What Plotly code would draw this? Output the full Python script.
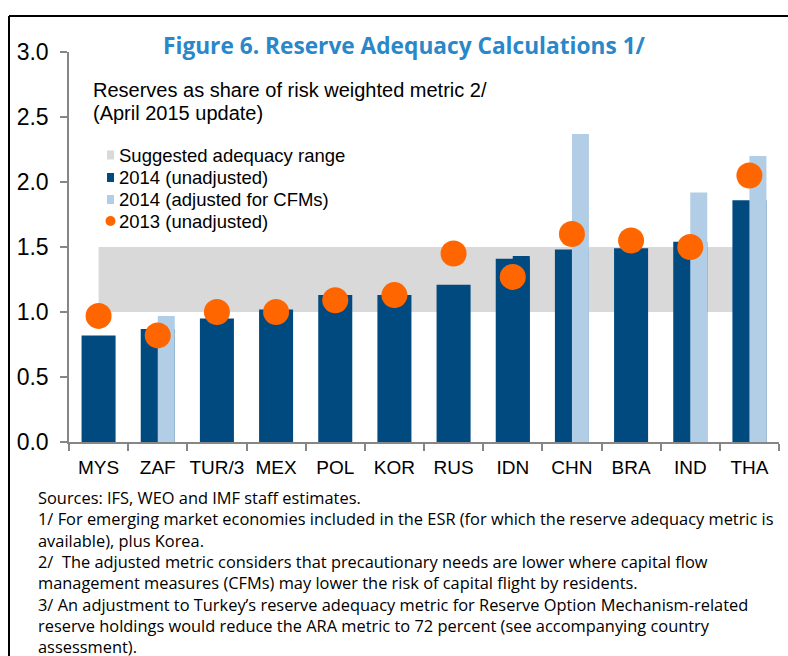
import plotly.graph_objects as go

# ---------------- data ----------------
countries = ["MYS", "ZAF", "TUR/3", "MEX", "POL", "KOR", "RUS", "IDN", "CHN", "BRA", "IND", "THA"]
unadj_2014 = [0.82, 0.87, 0.95, 1.02, 1.13, 1.13, 1.21, 1.41, 1.48, 1.49, 1.54, 1.86]
# right half of each bar: CFM-adjusted value where one exists
adj_2014 = [None, 0.97, None, None, None, None, None, 1.43, 2.37, None, 1.92, 2.20]
cfm_flag = [0, 1, 0, 0, 0, 0, 0, 0, 1, 0, 1, 1]
unadj_2013 = [0.97, 0.82, 1.00, 1.00, 1.09, 1.13, 1.45, 1.27, 1.60, 1.55, 1.50, 2.05]
band_low, band_high = 1.0, 1.5
y_ticks = [0.0, 0.5, 1.0, 1.5, 2.0, 2.5, 3.0]

title = "Figure 6. Reserve Adequacy Calculations 1/"
subtitle = ["Reserves as share of risk weighted metric 2/", "(April 2015 update)"]
legend_labels = ["Suggested adequacy range", "2014 (unadjusted)",
                 "2014 (adjusted for CFMs)", "2013 (unadjusted)"]
footnotes = [
    "Sources: IFS, WEO and IMF staff estimates.",
    "1/ For emerging market economies included in the ESR (for which the reserve adequacy metric is",
    "available), plus Korea.",
    "2/  The adjusted metric considers that precautionary needs are lower where capital flow",
    "management measures (CFMs) may lower the risk of capital flight by residents.",
    "3/ An adjustment to Turkey\u2019s reserve adequacy metric for Reserve Option Mechanism-related",
    "reserve holdings would reduce the ARA metric to 72 percent (see accompanying country",
    "assessment).",
]

DARK = "#004A80"
LIGHT = "#B2CDE6"
ORANGE = "#FF6600"
GREY = "#D9D9D9"
AXIS = "#868686"
TITLE_BLUE = "#2A87C8"

W, H = 788, 656
L, R, T, B = 69, 9, 52, 214
PW, PH = W - L - R, H - T - B
BAR_W = 0.575


def px(x):
    """screen pixel x -> paper x"""
    return (x - L) / PW


def py(y):
    """screen pixel y -> paper y"""
    return (H - B - y) / PH


adj_x = [c for c, a in zip(countries, adj_2014) if a is not None]
adj_y = [a for a in adj_2014 if a is not None]
adj_c = [LIGHT if f else DARK for f, a in zip(cfm_flag, adj_2014) if a is not None]

fig = go.Figure()
fig.add_trace(go.Bar(x=countries, y=unadj_2014, name=legend_labels[1], width=BAR_W,
                     marker=dict(color=DARK, line=dict(width=0)), showlegend=False))
fig.add_trace(go.Bar(x=adj_x, y=adj_y, name=legend_labels[2], width=BAR_W / 2, offset=0,
                     marker=dict(color=adj_c, line=dict(width=0)), showlegend=False))
fig.add_trace(go.Scatter(x=countries, y=unadj_2013, mode="markers", name=legend_labels[3],
                         marker=dict(color=ORANGE, size=26, line=dict(width=0)),
                         showlegend=False))

shapes = [
    dict(type="rect", xref="x", yref="y", x0=countries[0], x1=countries[-1],
         y0=band_low, y1=band_high, fillcolor=GREY, line=dict(width=0), layer="below"),
    # frame
    dict(type="line", xref="paper", yref="paper", x0=px(9), x1=px(W + 20), y0=py(16), y1=py(16),
         line=dict(color="black", width=2)),
    dict(type="line", xref="paper", yref="paper", x0=px(9), x1=px(9), y0=py(16), y1=py(H + 20),
         line=dict(color="black", width=2)),
]

# manual legend
leg_y = [155, 177.5, 199.5, 221.5]
leg_cols = [GREY, DARK, LIGHT]
for i, c in enumerate(leg_cols):
    shapes.append(dict(type="rect", xref="paper", yref="paper",
                       x0=px(107), x1=px(114), y0=py(leg_y[i] - 4.5), y1=py(leg_y[i] + 4.5),
                       fillcolor=c, line=dict(width=0)))
shapes.append(dict(type="circle", xref="paper", yref="paper",
                   x0=px(105.5), x1=px(115.5), y0=py(leg_y[3] - 5.5), y1=py(leg_y[3] + 4.5),
                   fillcolor=ORANGE, line=dict(width=0)))

annotations = [
    dict(text="<b>" + title + "</b>", xref="paper", yref="paper", x=px(404), y=py(45),
         xanchor="center", yanchor="middle", showarrow=False,
         font=dict(family="Open Sans", size=22.7, color=TITLE_BLUE)),
]
for i, s in enumerate(subtitle):
    annotations.append(dict(text=s, xref="paper", yref="paper", x=px(91), y=py([90, 113][i]),
                            xanchor="left", yanchor="middle", showarrow=False,
                            font=dict(family="Arial", size=20, color="black")))
for i, s in enumerate(legend_labels):
    annotations.append(dict(text=s, xref="paper", yref="paper", x=px(117), y=py(leg_y[i]),
                            xanchor="left", yanchor="middle", showarrow=False,
                            font=dict(family="Arial", size=18.5, color="black")))
annotations.append(dict(text="<br>".join(footnotes), xref="paper", yref="paper",
                        x=px(36), y=py(484), xanchor="left", yanchor="top", align="left",
                        showarrow=False,
                        font=dict(family="Open Sans", size=16.4, color="black")))

fig.update_layout(
    width=W, height=H,
    margin=dict(l=L, r=R, t=T, b=B, autoexpand=False),
    paper_bgcolor="white", plot_bgcolor="white",
    barmode="overlay",
    showlegend=False,
    shapes=shapes, annotations=annotations,
    font=dict(family="Arial", color="black"),
)
fig.update_xaxes(type="category", range=[-0.5, 11.5], tickson="boundaries",
                 ticks="outside", ticklen=7, tickcolor=AXIS, tickwidth=1.5, tickangle=0,
                 showline=True, linecolor=AXIS, linewidth=1.5, showgrid=False, automargin=False,
                 ticklabelstandoff=7,
                 tickfont=dict(family="Arial", size=19, color="black"))
fig.update_yaxes(range=[0, 3], tickvals=y_ticks, tickformat=".1f",
                 ticks="outside", ticklen=7, tickcolor=AXIS, tickwidth=1.5,
                 showline=True, linecolor=AXIS, linewidth=1.5, showgrid=False, zeroline=False,
                 ticklabelstandoff=7, automargin=False,
                 tickfont=dict(family="Arial", size=23, color="black"))

fig.write_html("out.html",
               config={"displayModeBar": False},
               post_script="document.documentElement.style.margin='0';"
                           "document.documentElement.style.overflow='hidden';"
                           "document.body.style.margin='0';"
                           "document.body.style.overflow='hidden';")
